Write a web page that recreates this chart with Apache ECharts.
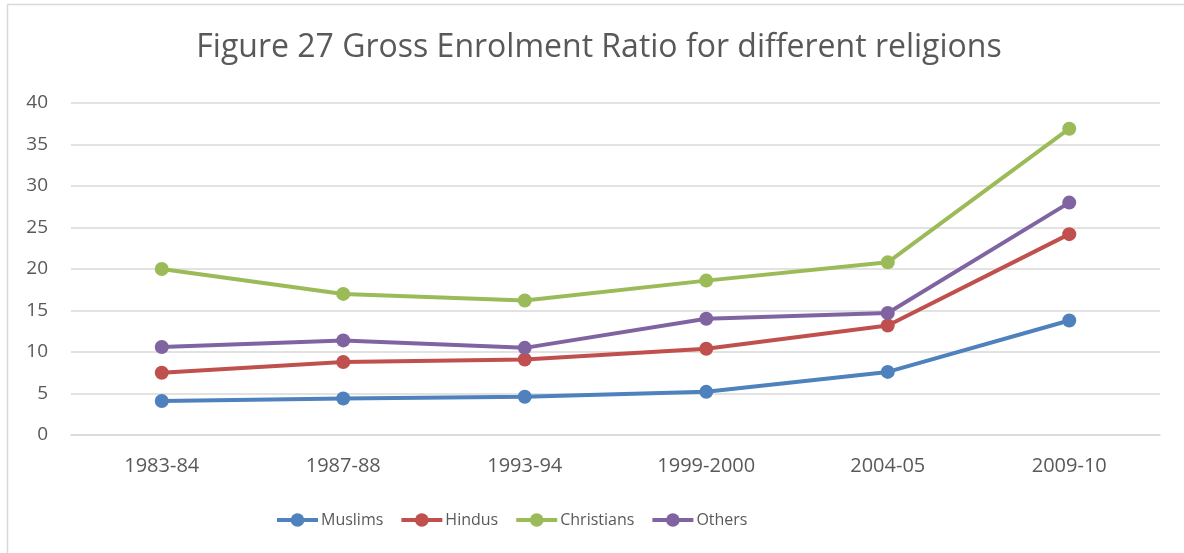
<!DOCTYPE html>
<html>
<head>
<meta charset="utf-8">
<style>
  html, body { margin: 0; padding: 0; background: #fff; }
  #chart { width: 1184px; height: 553px; }
</style>
<script src="https://cdn.jsdelivr.net/npm/echarts@6/dist/echarts.min.js"></script>
</head>
<body>
<div id="chart"></div>
<script>
// Gross Enrolment Ratio by religion, survey rounds 1983-84 to 2009-10
const years = ['1983-84', '1987-88', '1993-94', '1999-2000', '2004-05', '2009-10'];
const muslims    = [4.1, 4.4, 4.6, 5.2, 7.6, 13.8];
const hindus     = [7.5, 8.8, 9.1, 10.4, 13.2, 24.2];
const christians = [20.0, 17.0, 16.2, 18.6, 20.8, 36.9];
const others     = [10.6, 11.4, 10.5, 14.0, 14.7, 28.0];
const yTicks = [0, 5, 10, 15, 20, 25, 30, 35, 40];

const FONT = '"Open Sans", "Liberation Sans", sans-serif';
const TEXT = '#595959';

function lineSeries(name, data, color) {
  return {
    name: name,
    type: 'line',
    data: data,
    symbol: 'circle',
    symbolSize: 14,
    lineStyle: { width: 4, color: color },
    itemStyle: { color: color },
    emphasis: { disabled: true },
    z: 3
  };
}

const chart = echarts.init(document.getElementById('chart'), null, { renderer: 'canvas' });
chart.setOption({
  animation: false,
  color: ['#4f81bd', '#c0504d', '#9bbb59', '#8064a2'],
  graphic: [
    {
      type: 'rect',
      shape: { x: 7.5, y: 4.5, width: 1400, height: 800 },
      style: { fill: 'none', stroke: '#d9d9d9', lineWidth: 1.5 },
      silent: true
    },
    {
      type: 'text',
      x: 599,
      y: 48,
      style: {
        text: 'Figure 27 Gross Enrolment Ratio for different religions',
        align: 'center',
        verticalAlign: 'middle',
        font: '32px ' + FONT,
        fill: TEXT
      },
      silent: true
    }
  ],
  grid: { left: 71, right: 24, top: 103, bottom: 118, containLabel: false },
  legend: {
    left: 270,
    top: 507,
    itemWidth: 41,
    itemHeight: 17,
    itemGap: 16,
    lineStyle: { width: 4 },
    textStyle: { color: TEXT, fontFamily: FONT, fontSize: 16, padding: [0, 0, 0, -2] },
    data: ['Muslims', 'Hindus', 'Christians', 'Others']
  },
  xAxis: {
    type: 'category',
    data: years,
    boundaryGap: true,
    axisLine: { show: true, lineStyle: { color: '#d9d9d9', width: 1.5 } },
    axisTick: { show: false },
    axisLabel: { color: TEXT, fontFamily: FONT, fontSize: 20, margin: 21 },
    splitLine: { show: false }
  },
  yAxis: {
    type: 'value',
    min: yTicks[0],
    max: yTicks[yTicks.length - 1],
    interval: 5,
    axisLine: { show: false },
    axisTick: { show: false },
    axisLabel: { color: TEXT, fontFamily: FONT, fontSize: 19, margin: 23 },
    splitLine: { lineStyle: { color: '#d9d9d9', width: 1.5 } }
  },
  series: [
    lineSeries('Muslims', muslims, '#4f81bd'),
    lineSeries('Hindus', hindus, '#c0504d'),
    lineSeries('Christians', christians, '#9bbb59'),
    lineSeries('Others', others, '#8064a2')
  ]
});
</script>
</body>
</html>
